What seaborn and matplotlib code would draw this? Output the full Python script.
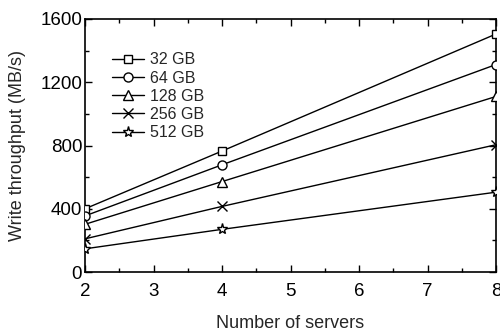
import matplotlib
matplotlib.use("Agg")
import matplotlib.pyplot as plt
import seaborn as sns
import pandas as pd
from matplotlib.ticker import MultipleLocator

servers = [2, 4, 8]
series_names = ["32 GB", "64 GB", "128 GB", "256 GB", "512 GB"]
tp_32 = [400, 765, 1505]
tp_64 = [355, 678, 1312]
tp_128 = [302, 572, 1110]
tp_256 = [210, 415, 805]
tp_512 = [147, 270, 505]
all_vals = [tp_32, tp_64, tp_128, tp_256, tp_512]
marker_list = ["s", "o", "^", "x", "*"]
marker_sizes = [6, 6.5, 7, 7.5, 8]

sns.set_style("ticks")
plt.rcParams["font.family"] = ["Liberation Sans", "DejaVu Sans"]

fig = plt.figure(figsize=(5.0, 3.33), dpi=100)
ax = fig.add_axes([0.17, 0.183, 0.822, 0.76])

for name, vals, mk, ms in zip(series_names, all_vals, marker_list, marker_sizes):
    d = pd.DataFrame({"servers": servers, "tp": vals})
    sns.lineplot(data=d, x="servers", y="tp", color="black", marker=mk,
                 markersize=ms, markerfacecolor="white", markeredgecolor="black",
                 markeredgewidth=1.0, linewidth=1.0, label=name, ax=ax, zorder=3)

for line in ax.lines:
    line.set_markerfacecolor("white")
    line.set_markeredgecolor("black")

ax.set_xlim(2, 8)
ax.set_ylim(0, 1600)
ax.xaxis.set_major_locator(MultipleLocator(1))
ax.xaxis.set_minor_locator(MultipleLocator(0.5))
ax.yaxis.set_major_locator(MultipleLocator(400))
ax.yaxis.set_minor_locator(MultipleLocator(200))
ax.tick_params(which="both", direction="in", top=True, right=True,
               labelsize=13.5, colors="black", width=1.0)
ax.tick_params(which="major", length=5)
ax.tick_params(which="minor", length=3)
ax.tick_params(axis="x", pad=8)
ax.tick_params(axis="y", pad=2)
for sp in ax.spines.values():
    sp.set_visible(True)
    sp.set_linewidth(1.2)
    sp.set_color("black")

ax.set_xlabel("Number of servers", fontsize=13, labelpad=11)
ax.set_ylabel("Write throughput (MB/s)", fontsize=13, labelpad=10)

handles, labels = ax.get_legend_handles_labels()
for h in handles:
    h.set_markerfacecolor("white")
leg = ax.legend(handles, labels, loc="upper left", bbox_to_anchor=(0.066, 0.868),
                frameon=False, fontsize=11.5, handlelength=2.0, handletextpad=0.4,
                labelspacing=0.2, borderpad=0.0, borderaxespad=0.0)

fig.savefig("out.png", dpi=100)
